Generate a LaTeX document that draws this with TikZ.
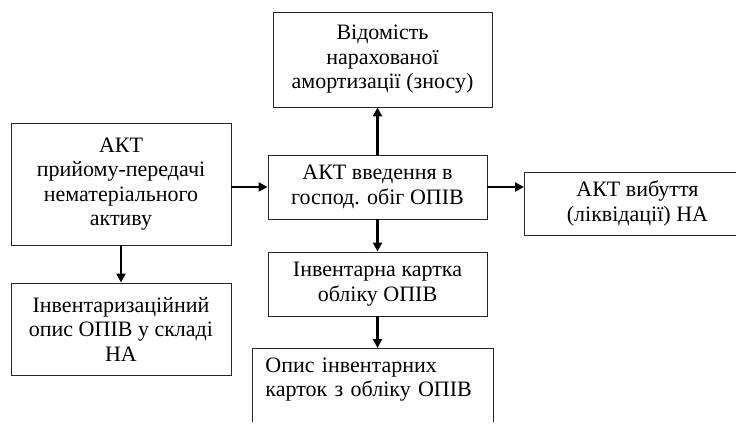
\documentclass[tikz,border=0pt]{standalone}
\usepackage{fontspec}
\setmainfont{Liberation Serif}
\newfontfamily\docfont{Liberation Serif}
\usetikzlibrary{arrows.meta}

\begin{document}
\begin{tikzpicture}[x=1pt, y=-1pt,
  box/.style={draw=black!85, line width=0.9pt, align=center, inner sep=0pt,
    font=\docfont\fontsize{22}{24.5}\selectfont},
  link/.style={-{Triangle[length=9pt,width=9pt]}, line width=2.6pt}]
\useasboundingbox (0,0) rectangle (736,425);
\clip (0,0) rectangle (736,421);
% documents
\node[box, minimum width=219pt, minimum height=95pt] (vid) at (382.5,59.5)
  {Відомість\\нарахованої\\амортизації (зносу)};
\node[box, minimum width=220pt, minimum height=122pt] (akt) at (121,184)
  {АКТ\\прийому-передачі\\нематеріального\\активу};
\node[box, minimum width=219pt, minimum height=64pt] (vved) at (377.5,187)
  {АКТ введення в\\господ. обіг ОПІВ};
\node[box, anchor=west, minimum width=226pt, minimum height=63pt] (vyb) at (524,203.5)
  {АКТ вибуття\\(ліквідації) НА};
\node[box, minimum width=219pt, minimum height=64pt] (invkart) at (377.5,284)
  {Інвентарна картка\\обліку ОПІВ};
\node[box, minimum width=220pt, minimum height=92pt] (inv) at (121,329)
  {Інвентаризаційний\\опис ОПІВ у складі\\НА};
\node[box, anchor=north west, align=left, text width=215pt, minimum width=241pt,
  inner ysep=9pt, text depth=50pt] (opys) at (252,348)
  {Опис інвентарних\\карток з обліку ОПІВ};
% links
\draw[link] (akt.east |- vved.west) -- (vved.west);
\draw[link] (vved.east) -- (vved.east -| vyb.west);
\draw[link] (vved.north) -- (vved.north |- vid.south);
\draw[link] (vved.south) -- (invkart.north);
\draw[link] (invkart.south) -- (invkart.south |- opys.north);
\draw[link] (akt.south) -- (inv.north);
\end{tikzpicture}
\end{document}
